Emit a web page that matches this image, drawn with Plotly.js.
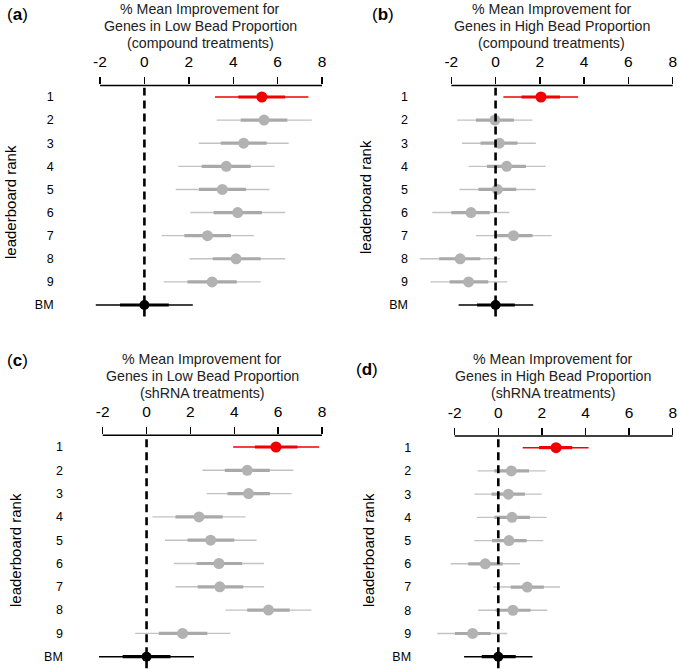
<!DOCTYPE html>
<html>
<head>
<meta charset="utf-8">
<script src="https://cdn.plot.ly/plotly-3.0.1.min.js"></script>
<style>html,body{margin:0;padding:0;background:#fff;}#chart{width:680px;height:669px;}</style>
</head>
<body>
<div id="chart"></div>
<script>
// ---- data ----
const rankLabels = ['1','2','3','4','5','6','7','8','9','BM'];
const xTicks = [-2, 0, 2, 4, 6, 8];

// (a) Low bead proportion, compound treatments
const aMean    = [5.29, 5.39, 4.47, 3.69, 3.51, 4.20, 2.84, 4.13, 3.05, 0];
const aThinLo  = [3.18, 3.26, 2.45, 1.53, 1.41, 2.07, 0.77, 2.03, 0.87, -2.19];
const aThinHi  = [7.39, 7.54, 6.50, 5.86, 5.63, 6.34, 4.94, 6.34, 5.24, 2.18];
const aThickLo = [4.23, 4.34, 3.44, 2.58, 2.46, 3.12, 1.80, 3.08, 1.94, -1.10];
const aThickHi = [6.34, 6.44, 5.51, 4.79, 4.58, 5.29, 3.90, 5.24, 4.16, 1.10];

// (b) High bead proportion, compound treatments
const bMean    = [2.05, -0.03, 0.17, 0.50, 0.08, -1.11, 0.81, -1.60, -1.22, 0];
const bThinLo  = [0.35, -1.73, -1.52, -1.22, -1.63, -2.86, -0.89, -3.42, -2.94, -1.67];
const bThinHi  = [3.73, 1.67, 1.82, 2.26, 1.81, 0.62, 2.53, 0.21, 0.53, 1.70];
const bThickLo = [1.17, -0.89, -0.68, -0.39, -0.77, -2.00, -0.05, -2.55, -2.08, -0.84];
const bThickHi = [2.91, 0.83, 0.99, 1.37, 0.93, -0.26, 1.67, -0.69, -0.33, 0.87];

// (c) Low bead proportion, shRNA treatments
const cMean    = [5.90, 4.59, 4.65, 2.39, 2.92, 3.30, 3.34, 5.56, 1.64, 0];
const cThinLo  = [3.95, 2.55, 2.74, 0.27, 0.84, 1.25, 1.32, 3.60, -0.52, -2.17];
const cThinHi  = [7.87, 6.69, 6.61, 4.51, 5.02, 5.36, 5.36, 7.52, 3.83, 2.16];
const cThickLo = [4.94, 3.57, 3.69, 1.32, 1.87, 2.28, 2.33, 4.59, 0.56, -1.09];
const cThickHi = [6.88, 5.62, 5.62, 3.47, 4.00, 4.36, 4.41, 6.53, 2.77, 1.09];

// (d) High bead proportion, shRNA treatments
const dMean    = [2.65, 0.60, 0.46, 0.63, 0.49, -0.60, 1.33, 0.67, -1.18, 0];
const dThinLo  = [1.12, -0.95, -1.09, -0.98, -1.10, -2.19, -0.23, -0.92, -2.80, -1.57];
const dThinHi  = [4.14, 2.17, 1.99, 2.22, 2.06, 0.99, 2.83, 2.25, 0.41, 1.57];
const dThickLo = [1.87, -0.18, -0.31, -0.18, -0.29, -1.38, 0.57, -0.12, -1.99, -0.76];
const dThickHi = [3.39, 1.41, 1.22, 1.45, 1.30, 0.20, 2.09, 1.48, -0.35, 0.80];

const panelLetters = ['a', 'b', 'c', 'd'];
const titleA = ['% Mean Improvement for', 'Genes in Low Bead Proportion', '(compound treatments)'];
const titleB = ['% Mean Improvement for', 'Genes in High Bead Proportion', '(compound treatments)'];
const titleC = ['% Mean Improvement for', 'Genes in Low Bead Proportion', '(shRNA treatments)'];
const titleD = ['% Mean Improvement for', 'Genes in High Bead Proportion', '(shRNA treatments)'];
const yTitle = 'leaderboard rank';

// ---- layout geometry ----
const W = 680, H = 669;
const panels = [
  {mean:aMean, tl:aThinLo, th:aThinHi, kl:aThickLo, kh:aThickHi, title:titleA, yStand:1,
   xpx:[100, 322], rowTop:97, rowBM:305, titleX:200, titleY:[9.5, 26.3, 43.1], letterX:17, letterY:15, yTitleX:10, yTitleY:202},
  {mean:bMean, tl:bThinLo, th:bThinHi, kl:bThickLo, kh:bThickHi, title:titleB, yStand:-2,
   xpx:[451.3, 672.7], rowTop:97, rowBM:305, titleX:551.7, titleY:[9.5, 26.3, 43.1], letterX:383, letterY:15, yTitleX:365, yTitleY:197},
  {mean:cMean, tl:cThinLo, th:cThinHi, kl:cThickLo, kh:cThickHi, title:titleC, yStand:-5,
   xpx:[102.7, 322], rowTop:447, rowBM:656.7, titleX:202, titleY:[359, 375.8, 392.6], letterX:17, letterY:360, yTitleX:15, yTitleY:550},
  {mean:dMean, tl:dThinLo, th:dThinHi, kl:dThickLo, kh:dThickHi, title:titleD, yStand:-1,
   xpx:[454.7, 672.7], rowTop:447.7, rowBM:656.7, titleX:553, titleY:[359, 375.8, 392.6], letterX:367, letterY:369, yTitleX:368, yTitleY:550}
];
const xMin = -4, xMax = 8.3;
const yTop = 0.5, yBot = 10.5;

const RED = '#f00000', GRAY_PT = '#b2b2b2', GRAY_THICK = '#a9a9a9', GRAY_THIN = '#c2c2c2', BLACK = '#000000';

const traces = [];
const layout = {
  width: W, height: H, autosize: false,
  margin: {l: 0, r: 0, t: 0, b: 0},
  paper_bgcolor: '#fff', plot_bgcolor: 'rgba(0,0,0,0)',
  showlegend: false,
  font: {family: 'Liberation Sans, Arial, sans-serif', color: '#000'},
  shapes: [], annotations: []
};

function segs(lo, hi, idx) {
  const xs = [], ys = [];
  idx.forEach(i => { xs.push(lo[i], hi[i], null); ys.push(i + 1, i + 1, null); });
  return {x: xs, y: ys};
}

panels.forEach((p, k) => {
  const n = k + 1;
  const xa = n === 1 ? 'x' : 'x' + n, ya = n === 1 ? 'y' : 'y' + n;
  const xaKey = n === 1 ? 'xaxis' : 'xaxis' + n, yaKey = n === 1 ? 'yaxis' : 'yaxis' + n;
  const pxPerUnit = (p.xpx[1] - p.xpx[0]) / 10;
  const left = p.xpx[0] + (xMin + 2) * pxPerUnit;
  const right = p.xpx[0] + (xMax + 2) * pxPerUnit;
  const rowStep = (p.rowBM - p.rowTop) / 9;
  const top = p.rowTop - (1 - yTop) * rowStep;
  const bot = p.rowTop + (yBot - 1) * rowStep;

  layout[xaKey] = {
    domain: [left / W, Math.min(right / W, 1)], range: [xMin, xMax], anchor: ya, side: 'top',
    tickvals: xTicks, ticktext: xTicks.map(String), ticks: 'outside', ticklen: 7, tickwidth: 1.4,
    tickcolor: '#000', showline: false, showgrid: false, zeroline: false, ticklabelstandoff: 4,
    tickfont: {size: 15.5, color: '#000'}, fixedrange: true
  };
  layout[yaKey] = {
    domain: [1 - bot / H, 1 - top / H], range: [yBot, yTop], anchor: xa,
    tickvals: rankLabels.map((_, i) => i + 1), ticktext: rankLabels, ticks: '', ticklabelstandoff: p.yStand,
    showline: false, showgrid: false, zeroline: false,
    tickfont: {size: 12.5, color: '#000'}, fixedrange: true
  };

  const groups = [
    {idx: [0], thin: RED, thick: RED, pt: RED, size: 11},
    {idx: [1,2,3,4,5,6,7,8], thin: GRAY_THIN, thick: GRAY_THICK, pt: GRAY_PT, size: 11},
    {idx: [9], thin: BLACK, thick: BLACK, pt: BLACK, size: 10}
  ];
  groups.forEach(g => {
    const t = segs(p.tl, p.th, g.idx);
    traces.push({type: 'scatter', mode: 'lines', x: t.x, y: t.y, xaxis: xa, yaxis: ya,
      line: {color: g.thin, width: 1.4}, hoverinfo: 'skip'});
    const k2 = segs(p.kl, p.kh, g.idx);
    traces.push({type: 'scatter', mode: 'lines', x: k2.x, y: k2.y, xaxis: xa, yaxis: ya,
      line: {color: g.thick, width: 3.2}, hoverinfo: 'skip'});
    traces.push({type: 'scatter', mode: 'markers', x: g.idx.map(i => p.mean[i]), y: g.idx.map(i => i + 1),
      xaxis: xa, yaxis: ya, marker: {color: g.pt, size: g.size, line: {width: 0}}, cliponaxis: false});
  });

  // axis line limited to the tick span
  layout.shapes.push({type: 'line', xref: xa, yref: ya + ' domain', x0: xTicks[0], x1: xTicks[xTicks.length - 1],
    y0: 1, y1: 1, line: {color: '#000', width: 1.5}, layer: 'above'});
  // dashed zero reference line
  layout.shapes.push({type: 'line', xref: xa, yref: ya + ' domain', x0: 0, x1: 0, y0: 0, y1: 0.99,
    line: {color: '#000', width: 2.6, dash: '8px,5px'}, layer: 'above'});

  p.title.forEach((line, j) => {
    layout.annotations.push({xref: 'paper', yref: 'paper', x: p.titleX / W, y: 1 - p.titleY[j] / H,
      xanchor: 'center', yanchor: 'middle', text: line, showarrow: false, borderpad: 0,
      font: {size: 14.2, color: '#222'}});
  });
  layout.annotations.push({xref: 'paper', yref: 'paper', x: p.letterX / W, y: 1 - p.letterY / H,
    xanchor: 'center', yanchor: 'middle', text: '(<b>' + panelLetters[k] + '</b>)', showarrow: false,
    font: {size: 17, color: '#000'}});
  layout.annotations.push({xref: 'paper', yref: 'paper', x: p.yTitleX / W, y: 1 - p.yTitleY / H,
    xanchor: 'center', yanchor: 'middle', text: yTitle, textangle: -90, showarrow: false,
    font: {size: 15, color: '#000'}});
});

Plotly.newPlot('chart', traces, layout, {displayModeBar: false, staticPlot: true});
</script>
</body>
</html>
